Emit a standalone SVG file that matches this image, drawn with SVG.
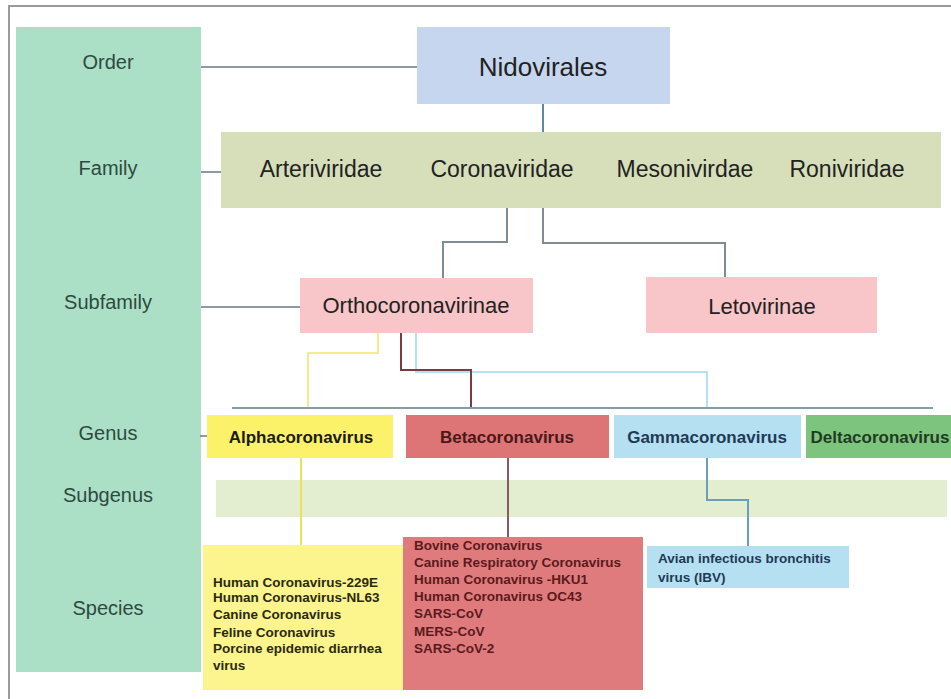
<svg xmlns="http://www.w3.org/2000/svg" width="951" height="699" viewBox="0 0 951 699">
<style>
text{font-family:"Liberation Sans",Arial,sans-serif}
.rank{font-size:20px;fill:#2e4a3f;text-anchor:middle;dominant-baseline:central}
.big{fill:#222;text-anchor:middle;dominant-baseline:central}
.gen{font-size:17px;font-weight:bold;text-anchor:middle;dominant-baseline:central}
.sp{font-size:13.5px;font-weight:bold;dominant-baseline:central}
.ln{fill:none;stroke-width:2}
</style>
<rect x="9" y="6" width="960" height="710" fill="#ffffff" stroke="#9a9a9a" stroke-width="2"/>
<g id="ranks">
<rect x="16" y="27" width="185" height="645" fill="#abe0c7"/>
<text class="rank" x="108" y="62">Order</text>
<text class="rank" x="108" y="168">Family</text>
<text class="rank" x="108" y="302">Subfamily</text>
<text class="rank" x="108" y="433">Genus</text>
<text class="rank" x="108" y="495">Subgenus</text>
<text class="rank" x="108" y="608">Species</text>
</g>
<g id="subgenus">
<rect x="216" y="480" width="731" height="37" fill="#e3edcf"/>
</g>
<g id="connectors">
<path class="ln" stroke="#8c9aa5" d="M201 67H417"/>
<path class="ln" stroke="#8c9aa5" d="M201 172H221"/>
<path class="ln" stroke="#8c9aa5" d="M201 307H300"/>
<path class="ln" stroke="#8c9aa5" d="M200 436H207"/>
<path class="ln" stroke="#5f87a8" d="M543 104V132"/>
<path class="ln" stroke="#7f8c95" d="M507 208V242H443V278"/>
<path class="ln" stroke="#7f8c95" d="M543 208V243H725V277"/>
<path class="ln" stroke="#f4ee8a" d="M378 333V353H308V407"/>
<path class="ln" stroke="#b4e3f0" d="M416 333V372H707V408"/>
<path class="ln" stroke="#7d3a44" stroke-width="2.5" d="M401 333V370H471V407"/>
<path class="ln" stroke="#8a9aa5" stroke-width="2.5" d="M232 408H933"/>
<path class="ln" stroke="#e8e35a" d="M301 458V545"/>
<path class="ln" stroke="#8a5a62" d="M508 458V537"/>
<path class="ln" stroke="#6a9fb5" d="M707 458V500H748V546"/>
</g>
<g id="nidovirales">
<rect x="417" y="27" width="253" height="77" fill="#c6d6ee"/>
<text class="big" x="543" y="67" font-size="26">Nidovirales</text>
</g>
<g id="families">
<rect x="221" y="132" width="720" height="76" fill="#d6dfb9"/>
<text class="big" x="321" y="169" font-size="23">Arteriviridae</text>
<text class="big" x="502" y="169" font-size="23">Coronaviridae</text>
<text class="big" x="685" y="169" font-size="23">Mesonivirdae</text>
<text class="big" x="847" y="169" font-size="23">Roniviridae</text>
</g>
<g id="orthocoronavirinae">
<rect x="300" y="278" width="233" height="55" fill="#f8c5c8"/>
<text class="big" x="416" y="305" font-size="22">Orthocoronavirinae</text>
</g>
<g id="letovirinae">
<rect x="646" y="277" width="231" height="56" fill="#f8c5c8"/>
<text class="big" x="762" y="306" font-size="22">Letovirinae</text>
</g>
<g id="alphacoronavirus">
<rect x="207" y="415" width="186" height="43" fill="#fbf26a"/>
<text class="gen" x="301" y="437" fill="#1c1c10">Alphacoronavirus</text>
</g>
<g id="betacoronavirus">
<rect x="406" y="415" width="203" height="43" fill="#dd7476"/>
<text class="gen" x="507" y="437" fill="#4a1818">Betacoronavirus</text>
</g>
<g id="gammacoronavirus">
<rect x="614" y="415" width="187" height="43" fill="#b4e0f2"/>
<text class="gen" x="707" y="437" fill="#1f3a55">Gammacoronavirus</text>
</g>
<g id="deltacoronavirus">
<rect x="806" y="415" width="150" height="43" fill="#7dc47f"/>
<text class="gen" x="880" y="437" fill="#1f3b1f" font-size="14.5">Deltacoronavirus</text>
</g>
<g id="alpha-species">
<rect x="203" y="545" width="200" height="145" fill="#fcf48c"/>
<text class="sp" fill="#2a2a12" x="213" y="582" font-size="14">Human Coronavirus-229E</text>
<text class="sp" fill="#2a2a12" x="213" y="597">Human Coronavirus-NL63</text>
<text class="sp" fill="#2a2a12" x="213" y="614">Canine Coronavirus</text>
<text class="sp" fill="#2a2a12" x="213" y="632">Feline Coronavirus</text>
<text class="sp" fill="#2a2a12" x="213" y="648">Porcine epidemic diarrhea</text>
<text class="sp" fill="#2a2a12" x="213" y="665">virus</text>
</g>
<g id="beta-species">
<rect x="403" y="537" width="240" height="153" fill="#e07b7d"/>
<text class="sp" fill="#5a1a1c" x="414" y="545" font-size="14">Bovine Coronavirus</text>
<text class="sp" fill="#5a1a1c" x="414" y="562" font-size="14">Canine Respiratory Coronavirus</text>
<text class="sp" fill="#5a1a1c" x="414" y="579" font-size="14">Human Coronavirus -HKU1</text>
<text class="sp" fill="#5a1a1c" x="414" y="596" font-size="14">Human Coronavirus OC43</text>
<text class="sp" fill="#5a1a1c" x="414" y="613" font-size="14">SARS-CoV</text>
<text class="sp" fill="#5a1a1c" x="414" y="631" font-size="14">MERS-CoV</text>
<text class="sp" fill="#5a1a1c" x="414" y="648" font-size="14">SARS-CoV-2</text>
</g>
<g id="gamma-species">
<rect x="647" y="546" width="202" height="42" fill="#b4e0f2"/>
<text class="sp" fill="#1f3a55" x="658" y="558" font-size="12">Avian infectious bronchitis</text>
<text class="sp" fill="#1f3a55" x="658" y="577" font-size="12">virus (IBV)</text>
</g>
</svg>
